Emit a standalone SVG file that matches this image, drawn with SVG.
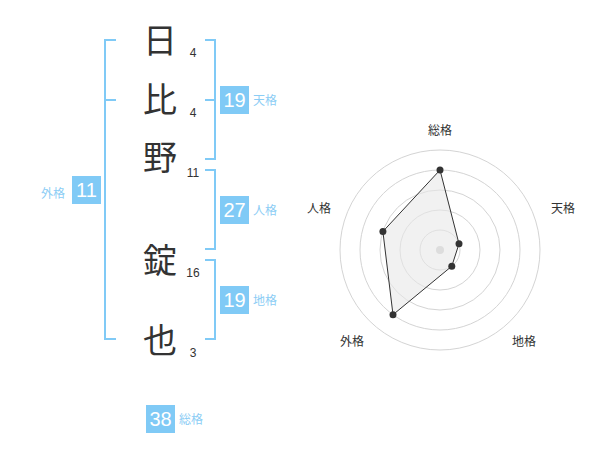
<svg xmlns="http://www.w3.org/2000/svg" width="600" height="470" viewBox="0 0 600 470">
<style>
.k{font-family:"Noto Sans CJK JP","Noto Sans CJK SC",sans-serif;font-size:34px;fill:#333;text-anchor:middle}
.n{font-family:"Liberation Sans",Arial,sans-serif;font-size:12px;fill:#333;text-anchor:middle}
.br{fill:none;stroke:#80caf6;stroke-width:2}
.bx{fill:#80caf6}
.bt{font-family:"Liberation Sans",Arial,sans-serif;font-size:20px;fill:#fff;text-anchor:middle}
.lb{font-family:"Noto Sans CJK JP","Noto Sans CJK SC",sans-serif;font-size:12px;fill:#8ccdf5}
.rl{font-family:"Noto Sans CJK JP","Noto Sans CJK SC",sans-serif;font-size:12px;fill:#333;text-anchor:middle}
.ring{fill:none;stroke:#d4d4d4;stroke-width:1}
.pt{fill:#333}
</style>
<g id="chars">
<g id="c1"><text class="k" x="160" y="53">日</text><text class="n" x="193" y="57">4</text></g>
<g id="c2"><text class="k" x="160" y="112">比</text><text class="n" x="193" y="117">4</text></g>
<g id="c3"><text class="k" x="160" y="170">野</text><text class="n" x="193" y="177">11</text></g>
<g id="c4"><text class="k" x="160" y="273">錠</text><text class="n" x="193" y="277">16</text></g>
<g id="c5"><text class="k" x="160" y="353">也</text><text class="n" x="193" y="357">3</text></g>
</g>
<g id="connectors">
<path class="br" d="M116 40H105V339H116M105 100H116"/>
<path class="br" d="M205 40H215V159H205M205 100H215"/>
<path class="br" d="M205 170H215V249H205"/>
<path class="br" d="M205 260H215V339H205"/>
</g>
<g id="gaikaku"><rect class="bx" x="72" y="176" width="29" height="28"/><text class="bt" x="86.5" y="197">11</text><text class="lb" x="41" y="198">外格</text></g>
<g id="tenkaku"><rect class="bx" x="220" y="86" width="29" height="28"/><text class="bt" x="234.5" y="107">19</text><text class="lb" x="253" y="105">天格</text></g>
<g id="jinkaku"><rect class="bx" x="220" y="196" width="29" height="28"/><text class="bt" x="234.5" y="217">27</text><text class="lb" x="253" y="215">人格</text></g>
<g id="chikaku"><rect class="bx" x="220" y="286" width="29" height="28"/><text class="bt" x="234.5" y="307">19</text><text class="lb" x="253" y="305">地格</text></g>
<g id="soukaku"><rect class="bx" x="146" y="405" width="29" height="28"/><text class="bt" x="160.5" y="426">38</text><text class="lb" x="179" y="424">総格</text></g>
<g id="radar">
<circle class="ring" cx="440" cy="250" r="20"/>
<circle class="ring" cx="440" cy="250" r="40"/>
<circle class="ring" cx="440" cy="250" r="60"/>
<circle class="ring" cx="440" cy="250" r="80"/>
<circle class="ring" cx="440" cy="250" r="100"/>
<circle cx="440" cy="250" r="4" fill="#cccccc"/>
<polygon points="440,170 459,243.8 451.8,266.2 393,314.7 382.9,231.5" fill="#e8e8e8" fill-opacity="0.6" stroke="#333" stroke-width="1"/>
<circle class="pt" cx="440" cy="170" r="3.5"/>
<circle class="pt" cx="459" cy="243.8" r="3.5"/>
<circle class="pt" cx="451.8" cy="266.2" r="3.5"/>
<circle class="pt" cx="393" cy="314.7" r="3.5"/>
<circle class="pt" cx="382.9" cy="231.5" r="3.5"/>
<text class="rl" x="440" y="135">総格</text>
<text class="rl" x="563" y="213">天格</text>
<text class="rl" x="524" y="346">地格</text>
<text class="rl" x="352" y="346">外格</text>
<text class="rl" x="319" y="213">人格</text>
</g>
</svg>
